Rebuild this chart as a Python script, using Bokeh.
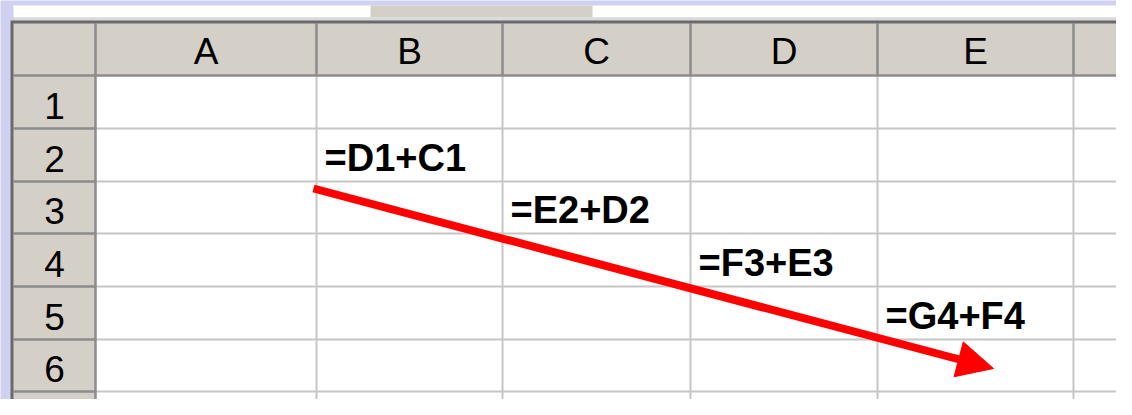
from bokeh.plotting import figure
from bokeh.models import Range1d, Arrow, NormalHead
from bokeh.core.properties import value
from bokeh.embed import file_html
from bokeh.resources import INLINE

# ---- data ----
col_labels = ["A", "B", "C", "D", "E", "F"]
row_labels = ["1", "2", "3", "4", "5", "6", "7"]
formula_cols = ["B", "C", "D", "E"]
formula_rows = ["2", "3", "4", "5"]
formulas = ["=D1+C1", "=E2+D2", "=F3+E3", "=G4+F4"]
arrow_from = ("B", "3")
arrow_to = ("E", "6")

# ---- layout (pixels) ----
W, H = 1116, 399
left_edge = 13
top_edge = 23
header_w = 95
header_h = 75
col_widths = [221, 186, 188, 187, 196, 57]
row_heights = [53, 53, 52, 53, 53, 52, 53]
right_edge = 1130
BL = 12  # svg baseline compensation

col_x = [header_w]
for w in col_widths:
    col_x.append(col_x[-1] + w)
row_y = [header_h]
for h in row_heights:
    row_y.append(row_y[-1] + h)
col_left = {c: col_x[i] for i, c in enumerate(col_labels)}
row_top = {r: row_y[i] for i, r in enumerate(row_labels)}

LAV = "#D0D0F0"
HDR = "#D4D0C8"
GRID = "#C6C6C6"
HDRLINE = "#8C8C8C"
DARK = "#6A6A6A"

p = figure(width=W, height=H, x_range=Range1d(0, W), y_range=Range1d(H, 0),
           output_backend="svg", toolbar_location=None, min_border=0,
           background_fill_color=LAV, border_fill_color=LAV)
p.axis.visible = False
p.grid.visible = False
p.outline_line_color = None

BOT = H + 20
# top strip
p.quad(left=[left_edge], right=[right_edge], top=[5], bottom=[17], fill_color="white", line_color=None)
p.quad(left=[370], right=[592], top=[5], bottom=[17], fill_color=HDR, line_color=None)
p.quad(left=[left_edge], right=[right_edge], top=[17], bottom=[20], fill_color="#DADADA", line_color=None)
# cell area
p.quad(left=[header_w], right=[right_edge], top=[header_h], bottom=[BOT], fill_color="white", line_color=None)
# headers
p.quad(left=[left_edge], right=[right_edge], top=[top_edge], bottom=[header_h], fill_color=HDR, line_color=None)
p.quad(left=[left_edge], right=[header_w], top=[top_edge], bottom=[BOT], fill_color=HDR, line_color=None)

n_c = len(col_x) - 1
n_r = len(row_y) - 1
# grid lines in cell area
p.segment(x0=col_x[1:], x1=col_x[1:], y0=[header_h] * n_c, y1=[BOT] * n_c, line_color=GRID, line_width=2)
p.segment(x0=[header_w] * n_r, x1=[right_edge] * n_r, y0=row_y[1:], y1=row_y[1:], line_color=GRID, line_width=2)
# header dividers
p.segment(x0=col_x[1:], x1=col_x[1:], y0=[top_edge] * n_c, y1=[header_h] * n_c, line_color=HDRLINE, line_width=2.5)
p.segment(x0=[left_edge] * n_r, x1=[header_w] * n_r, y0=row_y[1:], y1=row_y[1:], line_color=HDRLINE, line_width=2.5)
p.segment(x0=[left_edge], x1=[right_edge], y0=[header_h], y1=[header_h], line_color=HDRLINE, line_width=2.5)
p.segment(x0=[header_w], x1=[header_w], y0=[top_edge], y1=[BOT], line_color=HDRLINE, line_width=2.5)
# outer dark border
p.segment(x0=[left_edge - 1], x1=[right_edge], y0=[top_edge - 1.5], y1=[top_edge - 1.5], line_color=DARK, line_width=3)
p.segment(x0=[left_edge - 1.5], x1=[left_edge - 1.5], y0=[top_edge - 3], y1=[BOT], line_color=DARK, line_width=3)

# column header labels
col_centers = [(col_x[i] + col_x[i + 1]) / 2 for i in range(len(col_labels) - 1)]
p.text(x=col_centers, y=[header_h - 12 - BL] * len(col_centers), text=col_labels[:-1],
       text_font=value("Liberation Sans"), text_font_size="37px", text_color="black",
       text_align="center", text_baseline="alphabetic")
# row header labels (only those fully inside the view)
vis_rows = [r for i, r in enumerate(row_labels) if row_y[i + 1] <= H]
row_bottoms = [row_y[row_labels.index(r) + 1] for r in vis_rows]
p.text(x=[(left_edge + header_w) / 2] * len(vis_rows), y=[b - 11 - BL for b in row_bottoms], text=vis_rows,
       text_font=value("Liberation Sans"), text_font_size="37px", text_color="black",
       text_align="center", text_baseline="alphabetic")

# formulas
fx = [col_left[c] + 8 for c in formula_cols]
fy = [row_y[row_labels.index(r) + 1] - 12 - BL for r in formula_rows]
p.text(x=fx, y=fy, text=formulas, text_font=value("Liberation Sans"), text_font_size="38px",
       text_font_style="bold", text_color="black", text_align="left", text_baseline="alphabetic")

# arrow
sx = col_left[arrow_from[0]] - 3
sy = row_top[arrow_from[1]] + 7
ex = col_left[arrow_to[0]] + 116
ey = row_top[arrow_to[1]] + 29
p.add_layout(Arrow(x_start=sx, y_start=sy, x_end=ex, y_end=ey, line_color="#FF0000", line_width=8,
                   end=NormalHead(size=36, fill_color="#FF0000", line_color="#FF0000", line_width=1)))

open("out.html", "w").write(file_html(p, INLINE))
